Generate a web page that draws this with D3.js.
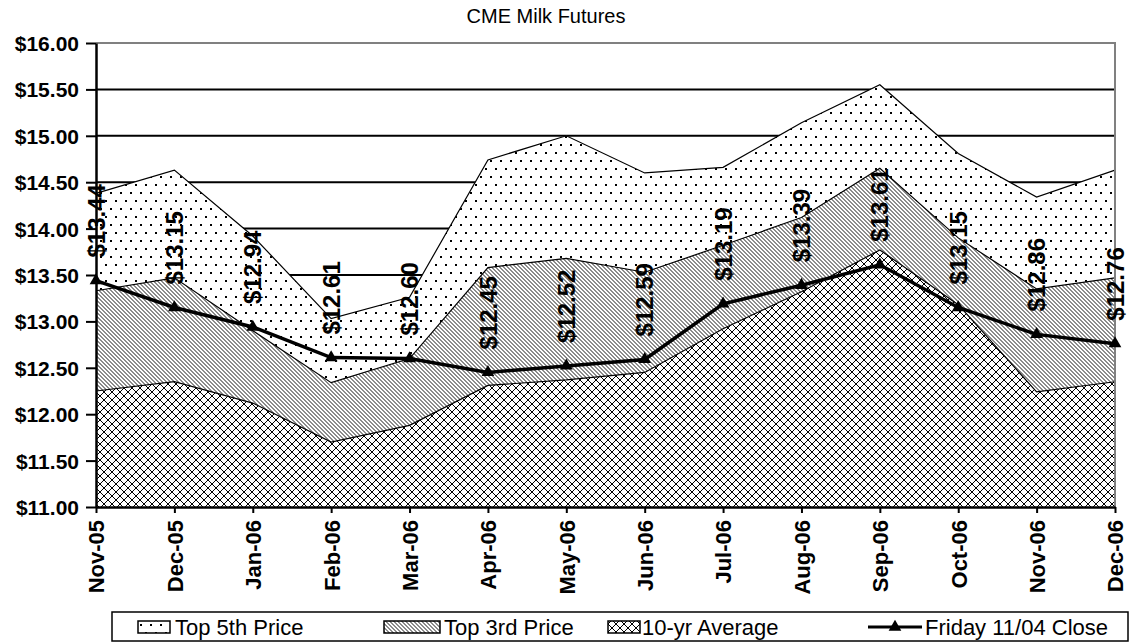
<!DOCTYPE html>
<html><head><meta charset="utf-8">
<script src="https://cdn.jsdelivr.net/npm/d3@7"></script>
<style>
html,body{margin:0;padding:0;background:#fff;}
svg{display:block;}
</style></head>
<body>
<svg id="c" width="1136" height="643"></svg>
<script>
const months = ["Nov-05","Dec-05","Jan-06","Feb-06","Mar-06","Apr-06","May-06","Jun-06","Jul-06","Aug-06","Sep-06","Oct-06","Nov-06","Dec-06"];
const top5th = [14.38,14.63,13.92,13.03,13.26,14.74,15.00,14.60,14.66,15.14,15.55,14.81,14.34,14.63];
const top3rd = [13.33,13.47,12.90,12.34,12.60,13.58,13.68,13.53,13.82,14.12,14.65,13.90,13.35,13.47];
const avg10yr = [12.25,12.35,12.12,11.70,11.88,12.31,12.37,12.45,12.92,13.32,13.77,13.18,12.24,12.35];
const fridayClose = [13.44,13.15,12.94,12.61,12.60,12.45,12.52,12.59,13.19,13.39,13.61,13.15,12.86,12.76];
const yTicks = [11,11.5,12,12.5,13,13.5,14,14.5,15,15.5,16];
const seriesNames = ["Top 5th Price","Top 3rd Price","10-yr Average","Friday 11/04 Close"];

const svg = d3.select("#c");
const L = 96, R = 1115, T = 43, B = 507;
const x = d3.scalePoint().domain(months).range([L, R]);
const y = d3.scaleLinear().domain([11, 16]).range([B, T]);
const fmt = d3.format("$.2f");

// patterns
const defs = svg.append("defs");
const pDot = defs.append("pattern").attr("id","pDot").attr("patternUnits","userSpaceOnUse")
  .attr("width",10).attr("height",16);
pDot.append("rect").attr("width",10).attr("height",16).attr("fill","#fff");
pDot.append("rect").attr("x",0).attr("y",0).attr("width",2).attr("height",2).attr("fill","#000");
pDot.append("rect").attr("x",5).attr("y",8).attr("width",2).attr("height",2).attr("fill","#000");

const pHatch = defs.append("pattern").attr("id","pHatch").attr("patternUnits","userSpaceOnUse")
  .attr("width",4).attr("height",4).attr("shape-rendering","crispEdges");
pHatch.append("rect").attr("width",4).attr("height",4).attr("fill","#fff");
for (let r = 0; r < 4; r++) {
  for (let k = 0; k < 2; k++) {
    pHatch.append("rect").attr("x",(r + k) % 4).attr("y",r).attr("width",1).attr("height",1).attr("fill","#8c8c8c");
  }
}
const pCross = defs.append("pattern").attr("id","pCross").attr("patternUnits","userSpaceOnUse")
  .attr("width",8).attr("height",8).attr("shape-rendering","crispEdges");
pCross.append("rect").attr("width",8).attr("height",8).attr("fill","#fff");
for (let i = 0; i < 8; i++) {
  pCross.append("rect").attr("x",i).attr("y",i).attr("width",1).attr("height",1).attr("fill","#000");
  pCross.append("rect").attr("x",7-i).attr("y",i).attr("width",1).attr("height",1).attr("fill","#000");
}

// title
svg.append("text").attr("x",546).attr("y",23).attr("text-anchor","middle")
  .attr("font-family","Liberation Sans, Arial, sans-serif").attr("font-size",20)
  .text("CME Milk Futures");

// gridlines
svg.append("g").selectAll("line").data(yTicks.filter(v => v > 11 && v < 16)).join("line")
  .attr("x1",L).attr("x2",R).attr("y1",d=>y(d)).attr("y2",d=>y(d))
  .attr("stroke","#000").attr("stroke-width",2);

// areas
const area = d3.area().x((d,i)=>x(months[i])).y0(y(11)).y1(d=>y(d));
const lineGen = d3.line().x((d,i)=>x(months[i])).y(d=>y(d));
const areas = [[top5th,"url(#pDot)"],[top3rd,"url(#pHatch)"],[avg10yr,"url(#pCross)"]];
areas.forEach(([vals, fill]) => {
  svg.append("path").datum(vals).attr("d", area).attr("fill", fill);
  svg.append("path").datum(vals).attr("d", lineGen).attr("fill","none").attr("stroke","#000").attr("stroke-width",1.2);
});

// plot border (top/right gray)
svg.append("path").attr("d",`M${L},${T}H${R}V${B}`).attr("fill","none").attr("stroke","#808080").attr("stroke-width",2);

// axes
const yAxis = svg.append("g").attr("transform",`translate(${L},0)`)
  .call(d3.axisLeft(y).tickValues(yTicks).tickFormat(fmt).tickSize(10).tickSizeOuter(0));
yAxis.select(".domain").attr("stroke","#000").attr("stroke-width",2.5);
yAxis.selectAll(".tick line").attr("stroke","#000").attr("stroke-width",2);
yAxis.selectAll(".tick text").attr("x",-17).attr("dy","0.36em")
  .attr("font-family","Liberation Sans, Arial, sans-serif").attr("font-size",21).attr("font-weight","bold").attr("fill","#000");

const xAxis = svg.append("g").attr("transform",`translate(0,${B})`)
  .call(d3.axisBottom(x).tickSize(6).tickSizeOuter(0));
xAxis.select(".domain").attr("stroke","#000").attr("stroke-width",2.5);
xAxis.selectAll(".tick line").attr("stroke","#000").attr("stroke-width",2);
xAxis.selectAll(".tick text").attr("transform","rotate(-90)").attr("x",-13).attr("y",0).attr("dy","0.36em")
  .attr("text-anchor","end")
  .attr("font-family","Liberation Sans, Arial, sans-serif").attr("font-size",22).attr("font-weight","bold").attr("fill","#000");

// close line
svg.append("path").datum(fridayClose).attr("d", lineGen).attr("fill","none").attr("stroke","#000").attr("stroke-width",3.5);
const tri = d3.symbol().type(d3.symbolTriangle).size(70);
svg.append("g").selectAll("path").data(fridayClose).join("path")
  .attr("transform",(d,i)=>`translate(${x(months[i])},${y(d)})`).attr("d",tri).attr("fill","#000");

// data labels
svg.append("g").selectAll("text").data(fridayClose).join("text")
  .attr("transform",(d,i)=>`translate(${x(months[i])},${y(d)-23}) rotate(-90)`)
  .attr("dy","0.36em").attr("text-anchor","start")
  .attr("font-family","Liberation Sans, Arial, sans-serif").attr("font-size",24).attr("font-weight","bold")
  .text(d=>fmt(d));

// legend
const lg = svg.append("g");
lg.append("rect").attr("x",112).attr("y",612).attr("width",1016).attr("height",29)
  .attr("fill","#fff").attr("stroke","#000").attr("stroke-width",1.5);
const ly = 627;
const items = [
  {sw:[138,170], tx:175, fill:"url(#pDot)"},
  {sw:[384,440], tx:444, fill:"url(#pHatch)"},
  {sw:[608,640], tx:642, fill:"url(#pCross)"},
  {sw:[868,922], tx:925, line:true}
];
items.forEach((it, i) => {
  if (it.line) {
    lg.append("line").attr("x1",it.sw[0]).attr("x2",it.sw[1]).attr("y1",ly).attr("y2",ly).attr("stroke","#000").attr("stroke-width",3);
    lg.append("path").attr("transform",`translate(${(it.sw[0]+it.sw[1])/2},${ly})`).attr("d",tri).attr("fill","#000");
  } else {
    lg.append("rect").attr("x",it.sw[0]).attr("y",ly-6).attr("width",it.sw[1]-it.sw[0]).attr("height",12)
      .attr("fill",it.fill).attr("stroke","#000").attr("stroke-width",1.5);
  }
  lg.append("text").attr("x",it.tx).attr("y",ly).attr("dy","0.36em")
    .attr("font-family","Liberation Sans, Arial, sans-serif").attr("font-size",22)
    .text(seriesNames[i]);
});
</script>
</body></html>
